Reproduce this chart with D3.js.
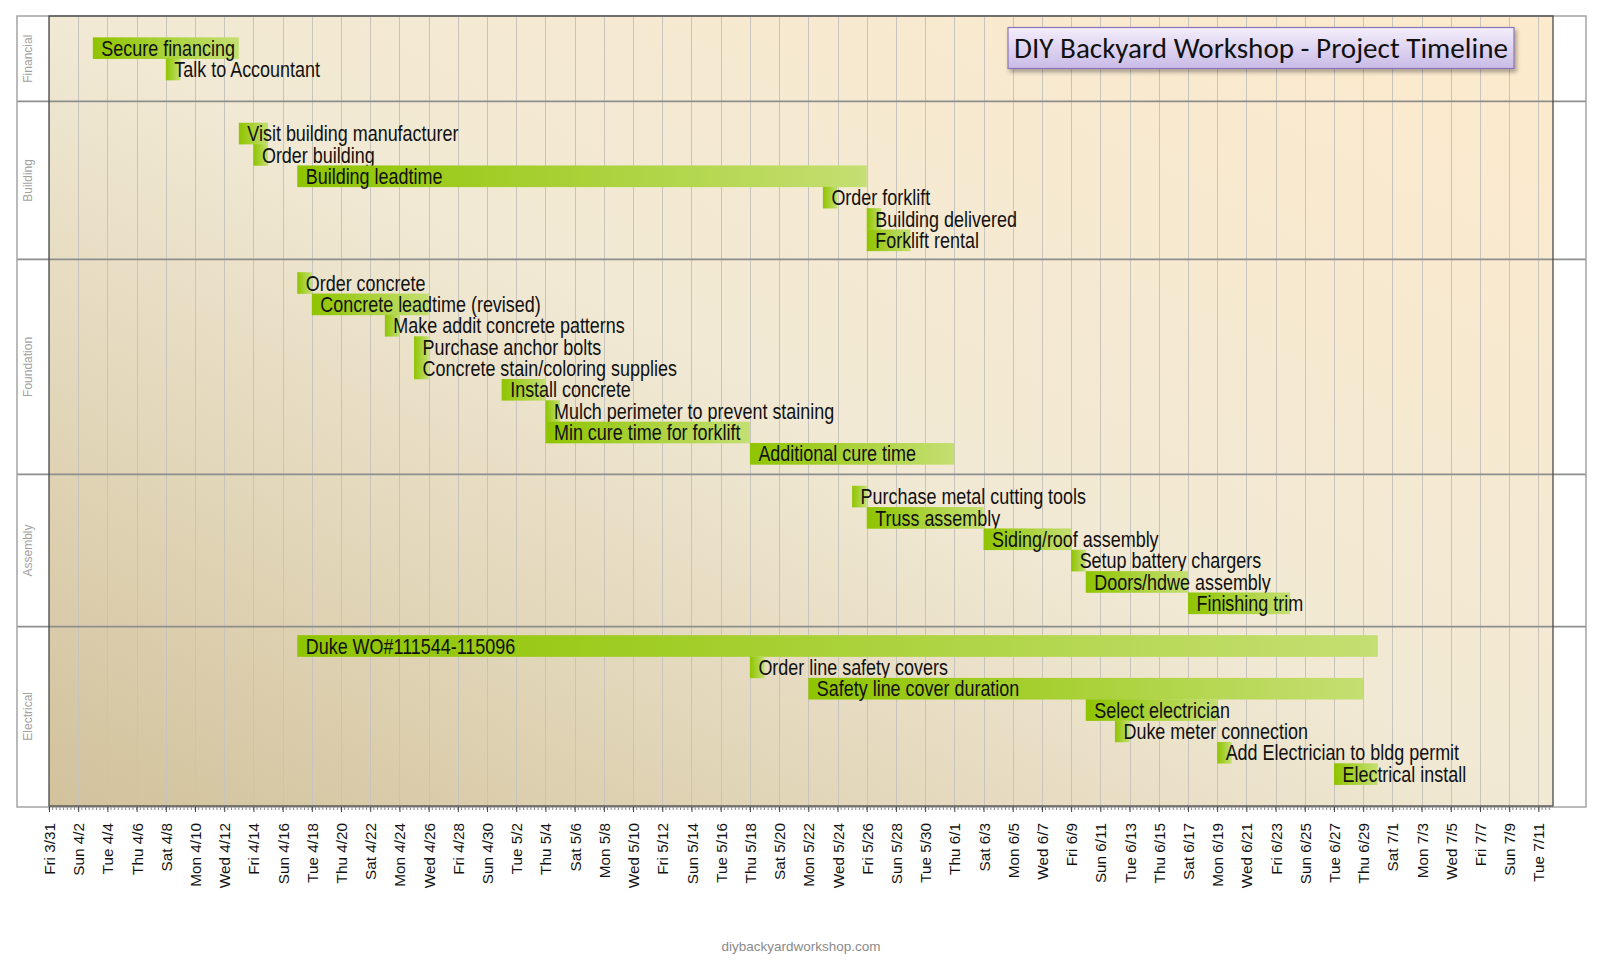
<!DOCTYPE html>
<html><head><meta charset="utf-8">
<script src="https://cdn.jsdelivr.net/npm/d3@7"></script>
<style>
body{margin:0;background:#fff;}
svg{display:block;}
</style>
</head><body>
<svg id="chart" width="1600" height="960"></svg>
<script>
// ---------------- DATA ----------------
const chartTitle = "DIY Backyard Workshop - Project Timeline";
const footerText = "diybackyardworkshop.com";
const groupNames = ["Financial", "Building", "Foundation", "Assembly", "Electrical"];
// group band edges, in task-row units (rows include blank spacer rows)
const groupEdges = [0, 4, 11.4, 21.47, 28.6, 37];

const taskNames = [
  "", "Secure financing", "Talk to Accountant", "", "",
  "Visit building manufacturer", "Order building", "Building leadtime", "Order forklift", "Building delivered", "Forklift rental", "",
  "Order concrete", "Concrete leadtime (revised)", "Make addit concrete patterns", "Purchase anchor bolts", "Concrete stain/coloring supplies", "Install concrete", "Mulch perimeter to prevent staining", "Min cure time for forklift", "Additional cure time", "",
  "Purchase metal cutting tools", "Truss assembly", "Siding/roof assembly", "Setup battery chargers", "Doors/hdwe assembly", "Finishing trim", "",
  "Duke WO#111544-115096", "Order line safety covers", "Safety line cover duration", "Select electrician", "Duke meter connection", "Add Electrician to bldg permit", "Electrical install", ""
];
const taskStarts = [
  null, "2017-04-03", "2017-04-08", null, null,
  "2017-04-13", "2017-04-14", "2017-04-17", "2017-05-23", "2017-05-26", "2017-05-26", null,
  "2017-04-17", "2017-04-18", "2017-04-23", "2017-04-25", "2017-04-25", "2017-05-01", "2017-05-04", "2017-05-04", "2017-05-18", null,
  "2017-05-25", "2017-05-26", "2017-06-03", "2017-06-09", "2017-06-10", "2017-06-17", null,
  "2017-04-17", "2017-05-18", "2017-05-22", "2017-06-10", "2017-06-12", "2017-06-19", "2017-06-27", null
];
const taskEnds = [
  null, "2017-04-13", "2017-04-09", null, null,
  "2017-04-15", "2017-04-15", "2017-05-26", "2017-05-24", "2017-05-27", "2017-05-29", null,
  "2017-04-18", "2017-04-26", "2017-04-24", "2017-04-26", "2017-04-26", "2017-05-04", "2017-05-05", "2017-05-18", "2017-06-01", null,
  "2017-05-26", "2017-06-03", "2017-06-09", "2017-06-10", "2017-06-17", "2017-06-24", null,
  "2017-06-30", "2017-05-19", "2017-06-29", "2017-06-19", "2017-06-13", "2017-06-20", "2017-06-30", null
];
const axisStart = "2017-03-31";
const axisEnd = "2017-07-12";

// ---------------- LAYOUT ----------------
const parse = d3.timeParse("%Y-%m-%d");
const svg = d3.select("#chart");
const outer = {x0: 17, x1: 1586, y0: 16, y1: 807};
const plot = {x0: 49, x1: 1553, y0: 16, y1: 806};

const x = d3.scaleTime().domain([parse(axisStart), parse(axisEnd)]).range([plot.x0, plot.x1]);
const y = d3.scaleLinear().domain([0, taskNames.length]).range([plot.y0, plot.y1]);
const rowH = y(1) - y(0);

const tasks = taskNames.map((n, i) => ({name: n, row: i,
  start: taskStarts[i] ? parse(taskStarts[i]) : null,
  end: taskEnds[i] ? parse(taskEnds[i]) : null})).filter(d => d.start);

const defs = svg.append("defs");
const bg = defs.append("linearGradient").attr("id", "bg").attr("x1", 0).attr("y1", 1).attr("x2", 1).attr("y2", 0);
bg.append("stop").attr("offset", 0).attr("stop-color", "#d2c29c");
bg.append("stop").attr("offset", 0.5).attr("stop-color", "#f1e9d4");
bg.append("stop").attr("offset", 1).attr("stop-color", "#fdeacc");

const bar = defs.append("linearGradient").attr("id", "bar").attr("x1", 0).attr("y1", 0).attr("x2", 1).attr("y2", 0);
bar.append("stop").attr("offset", 0).attr("stop-color", "#8fc400");
bar.append("stop").attr("offset", 1).attr("stop-color", "#c4df72");

const tg = defs.append("linearGradient").attr("id", "tbox").attr("x1", 0).attr("y1", 0).attr("x2", 0).attr("y2", 1);
tg.append("stop").attr("offset", 0).attr("stop-color", "#f4eefb");
tg.append("stop").attr("offset", 1).attr("stop-color", "#c9bbe6");

const sh = defs.append("filter").attr("id", "shadow").attr("x", "-10%").attr("y", "-30%").attr("width", "130%").attr("height", "180%");
sh.append("feDropShadow").attr("dx", 2).attr("dy", 3).attr("stdDeviation", 2).attr("flood-color", "#000").attr("flood-opacity", 0.35);

// white outer area
svg.append("rect").attr("x", outer.x0).attr("y", outer.y0).attr("width", outer.x1 - outer.x0).attr("height", outer.y1 - outer.y0)
  .attr("fill", "#fff");

// plot background
svg.append("rect").attr("x", plot.x0).attr("y", plot.y0).attr("width", plot.x1 - plot.x0).attr("height", plot.y1 - plot.y0)
  .attr("fill", "url(#bg)");

// vertical grid lines every 2 days
const majorTicks = d3.timeDay.range(parse(axisStart), parse(axisEnd), 2);
svg.append("g").selectAll("line").data(majorTicks).join("line")
  .attr("x1", d => Math.round(x(d)) + 0.5).attr("x2", d => Math.round(x(d)) + 0.5)
  .attr("y1", plot.y0).attr("y2", plot.y1)
  .attr("stroke", "#c6c4bd").attr("stroke-width", 1);

// bars
const bars = svg.append("g").selectAll("g").data(tasks).join("g");
bars.append("rect")
  .attr("x", d => x(d.start)).attr("width", d => x(d.end) - x(d.start))
  .attr("y", d => y(d.row)).attr("height", rowH + 0.3)
  .attr("fill", "url(#bar)");
// narrow (Arial Narrow-like) labels: Liberation Sans compressed horizontally
bars.append("text")
  .attr("transform", d => `translate(${x(d.start) + 8.5},${y(d.row + 0.5)}) scale(0.835,1)`)
  .attr("dy", "0.36em")
  .attr("font-family", "'Liberation Sans',Arial,sans-serif")
  .attr("font-size", 21.5).attr("fill", "#111")
  .text(d => d.name);

// group separators
svg.append("g").selectAll("line").data(groupEdges.slice(1, -1)).join("line")
  .attr("x1", outer.x0).attr("x2", outer.x1)
  .attr("y1", d => y(d)).attr("y2", d => y(d))
  .attr("stroke", "#8e8e8e").attr("stroke-width", 1.6);

// group labels
svg.append("g").selectAll("text").data(groupNames).join("text")
  .attr("transform", (d, i) => `translate(28,${y((groupEdges[i] + groupEdges[i + 1]) / 2)}) rotate(-90)`)
  .attr("text-anchor", "middle").attr("dy", "0.35em")
  .attr("font-family", "'Liberation Sans',Arial,sans-serif").attr("font-size", 12)
  .attr("fill", "#a2a2a2").text(d => d);

// frames
svg.append("rect").attr("x", outer.x0).attr("y", outer.y0).attr("width", outer.x1 - outer.x0).attr("height", outer.y1 - outer.y0)
  .attr("fill", "none").attr("stroke", "#a4a4a4").attr("stroke-width", 1.5);
svg.append("rect").attr("x", plot.x0).attr("y", plot.y0).attr("width", plot.x1 - plot.x0).attr("height", plot.y1 - plot.y0)
  .attr("fill", "none").attr("stroke", "#4a4a4a").attr("stroke-width", 1.3);

// x axis
const minorTicks = d3.timeHour.every(6).range(parse(axisStart), parse(axisEnd));
svg.append("g").selectAll("line").data(minorTicks).join("line")
  .attr("x1", d => x(d)).attr("x2", d => x(d))
  .attr("y1", plot.y1 + 1.5).attr("y2", plot.y1 + 4)
  .attr("stroke", "#777").attr("stroke-width", 0.9);

const axis = d3.axisBottom(x).tickValues(majorTicks).tickFormat(d3.timeFormat("%a %-m/%-d")).tickSize(5).tickPadding(0);
const ag = svg.append("g").attr("transform", `translate(0,${plot.y1 + 1})`).call(axis);
ag.select(".domain").remove();
ag.selectAll(".tick line").attr("stroke", "#444");
ag.selectAll(".tick text")
  .attr("transform", "rotate(-90)")
  .attr("text-anchor", "end")
  .attr("x", -16).attr("y", 0).attr("dy", "0.36em")
  .attr("font-family", "'Liberation Sans',Arial,sans-serif")
  .attr("font-size", 15.3).attr("fill", "#111");

// title box
const tb = {x: 1008, y: 27.5, w: 506, h: 41};
svg.append("rect").attr("x", tb.x).attr("y", tb.y).attr("width", tb.w).attr("height", tb.h)
  .attr("fill", "url(#tbox)").attr("stroke", "#8a73b4").attr("stroke-width", 1.2)
  .attr("filter", "url(#shadow)");
const tt = svg.append("text").attr("x", tb.x + tb.w / 2).attr("y", tb.y + tb.h / 2).attr("dy", "0.35em")
  .attr("text-anchor", "middle")
  .attr("font-family", "Calibri,Carlito,Lato,'Open Sans',sans-serif")
  .attr("font-size", 28).attr("fill", "#111").text(chartTitle);
const tw = tt.node().getComputedTextLength();
tt.attr("font-size", 28 * 494 / tw);

// footer
svg.append("text").attr("x", 801).attr("y", 951).attr("text-anchor", "middle")
  .attr("font-family", "'Liberation Sans',Arial,sans-serif").attr("font-size", 13.5)
  .attr("fill", "#8a8a8a").text(footerText);
</script>
</body></html>
